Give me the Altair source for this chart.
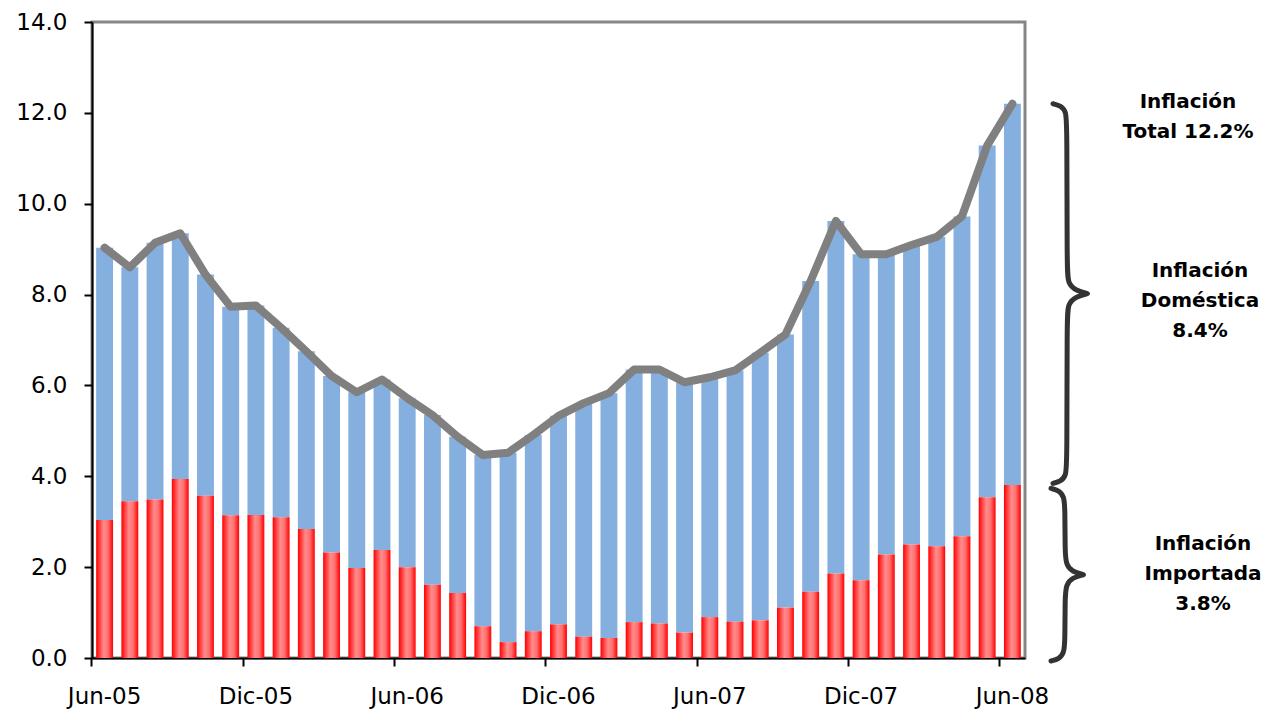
import altair as alt
import pandas as pd

# ---------------- data ----------------
months = ["Jun-05", "Jul-05", "Ago-05", "Sep-05", "Oct-05", "Nov-05", "Dic-05",
          "Ene-06", "Feb-06", "Mar-06", "Abr-06", "May-06", "Jun-06", "Jul-06",
          "Ago-06", "Sep-06", "Oct-06", "Nov-06", "Dic-06", "Ene-07", "Feb-07",
          "Mar-07", "Abr-07", "May-07", "Jun-07", "Jul-07", "Ago-07", "Sep-07",
          "Oct-07", "Nov-07", "Dic-07", "Ene-08", "Feb-08", "Mar-08", "Abr-08",
          "May-08", "Jun-08"]

importada = [3.04, 3.45, 3.49, 3.94, 3.57, 3.14, 3.15, 3.10, 2.84, 2.32,
             1.98, 2.38, 2.00, 1.61, 1.43, 0.70, 0.35, 0.59, 0.74, 0.47,
             0.44, 0.79, 0.76, 0.56, 0.90, 0.80, 0.83, 1.11, 1.46, 1.86,
             1.71, 2.28, 2.50, 2.46, 2.68, 3.54, 3.81]

total = [9.03, 8.60, 9.14, 9.35, 8.44, 7.73, 7.76, 7.27, 6.75, 6.21,
         5.85, 6.13, 5.72, 5.35, 4.87, 4.47, 4.52, 4.91, 5.33, 5.61,
         5.83, 6.35, 6.35, 6.07, 6.18, 6.33, 6.72, 7.12, 8.30, 9.62,
         8.89, 8.89, 9.09, 9.27, 9.72, 11.28, 12.20]

tick_months = ["Jun-05", "Dic-05", "Jun-06", "Dic-06", "Jun-07", "Dic-07", "Jun-08"]
y_ticks = [0, 2, 4, 6, 8, 10, 12, 14]

total_last = 12.2
imp_last = 3.8
dom_last = 8.4

# ---------------- layout ----------------
W, H = 933, 636
YMAX = 14
K = H / YMAX  # px per unit
FONT = "DejaVu Sans"
P_INNER = 0.33

df = pd.DataFrame({"month": months, "imp": importada, "total": total})

yscale = alt.Scale(domain=[0, YMAX], nice=False, zero=True)
xscale = alt.Scale(domain=months, paddingInner=P_INNER, paddingOuter=P_INNER / 2)
# ticks at category boundaries, labels centred on the category
band_pos = -(P_INNER / 2) / (1 - P_INNER)
xaxis = alt.Axis(values=tick_months, bandPosition=band_pos,
                 labelAngle=0, title=None, labelPadding=19)
yaxis = alt.Axis(values=y_ticks, format=".1f", title=None, labelPadding=17)

x_enc = alt.X("month:N", sort=months, scale=xscale, axis=xaxis)

red_grad = alt.Gradient(
    gradient="linear",
    stops=[alt.GradientStop(color="#FF0000", offset=0),
           alt.GradientStop(color="#FF8C8C", offset=0.45),
           alt.GradientStop(color="#FF7070", offset=0.7),
           alt.GradientStop(color="#FF0000", offset=1)],
    x1=0, x2=1, y1=0, y2=0)

blue = alt.Chart(df).mark_bar(color="#84AFDF").encode(
    x=x_enc, y=alt.Y("imp:Q", scale=yscale, axis=yaxis), y2="total:Q")
red = alt.Chart(df).mark_bar(color=red_grad).encode(
    x=x_enc, y=alt.Y("imp:Q", scale=yscale, axis=yaxis))
line = alt.Chart(df).mark_line(color="#808080", strokeWidth=8, strokeCap="round",
                               strokeJoin="round").encode(
    x=x_enc, y=alt.Y("total:Q", scale=yscale, axis=yaxis))

main = alt.layer(blue, red, line)


# ---------------- braces ----------------
def brace(group, top_v, bot_v, x0, reach):
    mid_v = (top_v + bot_v) / 2
    top_shape = [(0, 0), (8, 2), (13, 8), (14, 20)]
    mid_shape = [(14, -24), (15, -10), (reach - 12, -3), (reach, 0), (reach, 0),
                 (reach - 12, 3), (15, 10), (14, 24)]
    bot_shape = [(14, -20), (13, -8), (8, -2), (0, 0)]
    rows = []
    for anchor, shape in ((top_v, top_shape), (mid_v, mid_shape), (bot_v, bot_shape)):
        for dx, dy in shape:
            rows.append({"g": group, "i": len(rows), "bx": x0 + dx, "by": anchor - dy / K})
    return rows


brace_rows = brace("dom", total_last, imp_last + 2 / K, 961, 35) + \
             brace("imp", imp_last - 3 / K, 0 - 3 / K, 959, 33)
bdf = pd.DataFrame(brace_rows)

braces = alt.Chart(bdf).mark_line(color="#333333", strokeWidth=5, interpolate="basis",
                                  strokeCap="round", clip=False).encode(
    x=alt.X("bx:Q", scale=alt.Scale(domain=[0, W], range=[0, W]), axis=None),
    y=alt.Y("by:Q", scale=yscale, axis=yaxis),
    detail="g:N",
    order="i:Q",
)


# ---------------- annotation texts ----------------
def note(text, value, xpx, dy):
    return alt.Chart(pd.DataFrame({"v": [value], "t": [text]})).mark_text(
        font=FONT, fontWeight="bold", fontSize=20, lineHeight=30, align="center",
        baseline="middle", color="#000000", dy=dy, lineBreak="\n"
    ).encode(x=alt.value(xpx), y=alt.Y("v:Q", scale=yscale, axis=yaxis), text="t:N")


t_total = note(f"Inflación\nTotal {total_last:.1f}%", total_last, 1096, -2)
t_dom = note(f"Inflación\nDoméstica\n{dom_last:.1f}%", (total_last + imp_last) / 2, 1108, -24)
t_imp = note(f"Inflación\nImportada\n{imp_last:.1f}%", imp_last / 2, 1111, -28)

chart = alt.layer(main, braces, t_total, t_dom, t_imp).resolve_scale(
    x="independent"
).properties(
    width=W, height=H,
    autosize=alt.AutoSizeParams(type="none"),
    padding={"left": 84, "top": 14, "right": 239, "bottom": 51},
).configure_view(
    stroke="#868686", strokeWidth=3
).configure_axis(
    grid=False, domainColor="#000000", domainWidth=2, tickColor="#000000",
    tickWidth=2, tickSize=8, labelFont=FONT, labelFontSize=23, labelColor="#000000",
)

chart.save("out.html", embed_options={"renderer": "svg", "actions": False})
